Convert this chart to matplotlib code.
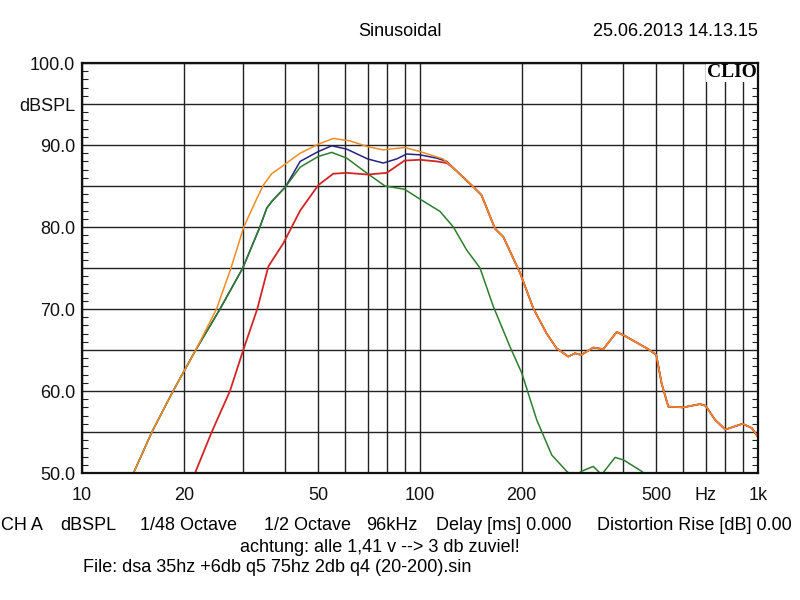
import matplotlib
matplotlib.use("Agg")
import matplotlib.pyplot as plt

plt.rcParams['font.family'] = ['Liberation Sans', 'DejaVu Sans']

# shared part of orange / red / blue above ~120 Hz
tail_f = [125.5, 143.8, 152, 166.7, 176.4, 197.7, 216.3, 237, 253.7, 274.7,
          287.4, 300, 325.6, 348.5, 382, 408.8, 473.6, 500, 518.8, 542.8,
          600, 673.5, 700, 746, 800, 900, 958, 1000]
tail_db = [87.2, 84.9, 83.9, 79.8, 78.8, 74.4, 70.1, 67.0, 65.2, 64.2,
           64.6, 64.4, 65.3, 65.1, 67.2, 66.6, 65.1, 64.4, 60.9, 58.1,
           58.0, 58.4, 58.2, 56.5, 55.3, 56.0, 55.5, 54.4]

# orange
orange_f = [14.2, 16.1, 18.6, 21.7, 25.0, 27.6, 30.1, 32.5, 34.4, 36.4, 38.5, 44.2,
            50, 55.4, 62.1, 70, 77.9, 90, 100, 117]
orange_db = [50, 55, 60, 65, 70, 75, 80, 83.0, 85.1, 86.5, 87.2, 89.0,
             90.1, 90.8, 90.5, 89.8, 89.4, 89.7, 89.2, 88.3]

# green
green_f = [14.2, 16.1, 18.6, 21.7, 25.6, 29.9, 33.6, 35.2, 36.4, 40.0, 44.2,
           50, 54.8, 60.7, 70, 78.8, 90, 100, 114.6, 125.5, 137.4, 150.5,
           164.8, 184.6, 200, 221.4, 245.3, 271.7, 285, 300, 325.6, 344.8,
           377.6, 400, 453, 470]
green_db = [50, 55, 60, 65, 70, 75, 80, 82.3, 83.1, 84.9, 87.3,
            88.6, 89.1, 88.4, 86.5, 85.0, 84.6, 83.4, 81.9, 80.0, 77.2, 75.0,
            70.3, 65.4, 62.2, 56.5, 52.2, 50.2, 49.5, 50.2, 50.8, 49.8,
            51.9, 51.6, 50.2, 49.5]

# blue
blue_f = [14.2, 16.1, 18.6, 21.7, 25.6, 29.9, 33.6, 35.2, 36.4, 40.0, 44.2,
          50, 54.8, 60.7, 70, 77.9, 85.3, 91.3, 100, 112, 120]
blue_db = [50, 55, 60, 65, 70, 75, 80, 82.3, 83.1, 84.9, 88.0,
           89.2, 89.9, 89.5, 88.3, 87.8, 88.3, 88.9, 88.8, 88.4, 88.0]

# red
red_f = [21.6, 24.2, 27.4, 30.0, 33.0, 35.6, 39.4, 44.2, 50, 55.4, 60.7,
         70, 79.7, 90, 100, 112, 120]
red_db = [50, 55, 60, 65, 70, 75.2, 78.0, 82.0, 85.1, 86.5, 86.6,
          86.4, 86.6, 88.1, 88.2, 88.0, 87.8]

xticks = [10, 20, 30, 40, 50, 60, 70, 80, 90, 100, 200, 300, 400, 500,
          600, 700, 800, 900, 1000]
xlabels = ['10', '20', '', '', '50', '', '', '', '', '100', '200', '', '',
           '500', '', 'Hz', '', '', '1k']
yticks = [50, 55, 60, 65, 70, 75, 80, 85, 90, 95, 100]
ylabels = ['50.0', '', '60.0', '', '70.0', '', '80.0', '', '90.0', 'dBSPL', '100.0']

FS = 13

fig = plt.figure(figsize=(8, 6), dpi=100)
ax = fig.add_axes([82/800, 1-473/600, 676/800, 410/600])

ax.plot(blue_f + tail_f, blue_db + tail_db, color='#23237F', lw=1.1, zorder=3)
ax.plot(green_f, green_db, color='#2E7D2E', lw=1.1, zorder=4)
ax.plot(red_f + tail_f, red_db + tail_db, color='#D42525', lw=1.3, zorder=5)
ax.plot(orange_f + tail_f, orange_db + tail_db, color='#F08C24', lw=1.1, zorder=6)

ax.set_xscale('log')
ax.set_xlim(10, 1000)
ax.set_ylim(50, 100)
ax.set_xticks(xticks)
ax.set_xticklabels(xlabels)
ax.xaxis.set_minor_locator(matplotlib.ticker.NullLocator())
ax.set_yticks(yticks)
ax.set_yticklabels(ylabels)
ax.set_yticks(range(50, 101), minor=True)
ax.tick_params(axis='both', which='major', length=0, labelsize=FS, colors='#111')
ax.tick_params(axis='x', pad=10)
ax.tick_params(axis='y', pad=5)
ax.tick_params(axis='y', which='minor', direction='in', length=4, width=0.8,
               left=True, right=True, color='#222')
ax.grid(True, which='major', color='#222', lw=1.0)
ax.set_axisbelow(True)
for s in ax.spines.values():
    s.set_linewidth(1.6)
    s.set_color('#111')
    s.set_zorder(10)

ax.text(0.998, 0.997, 'CLIO', transform=ax.transAxes, ha='right', va='top',
        fontfamily=['Liberation Serif', 'DejaVu Serif'], fontweight='bold',
        fontsize=14, bbox=dict(fc='white', ec='none', pad=0.5), zorder=8)

fig.text(400/800, 1-32/600, 'Sinusoidal', ha='center', va='center', fontsize=FS)
fig.text(758/800, 1-32/600, '25.06.2013 14.13.15', ha='right', va='center', fontsize=FS)

# bottom info lines
parts = [(1, 'CH A'), (60, 'dBSPL'), (140, '1/48 Octave'), (264, '1/2 Octave'),
         (366, '96kHz'), (436, 'Delay [ms] 0.000'), (597, 'Distortion Rise [dB] 0.00')]
for px, txt in parts:
    fig.text(px/800, 1-526/600, txt, ha='left', va='center', fontsize=FS)
fig.text(240/800, 1-548/600, 'achtung: alle 1,41 v --> 3 db zuviel!',
         ha='left', va='center', fontsize=FS)
fig.text(83/800, 1-568/600, 'File: dsa 35hz +6db q5 75hz 2db q4 (20-200).sin',
         ha='left', va='center', fontsize=FS)

fig.savefig('out.png', dpi=100, facecolor='white')
